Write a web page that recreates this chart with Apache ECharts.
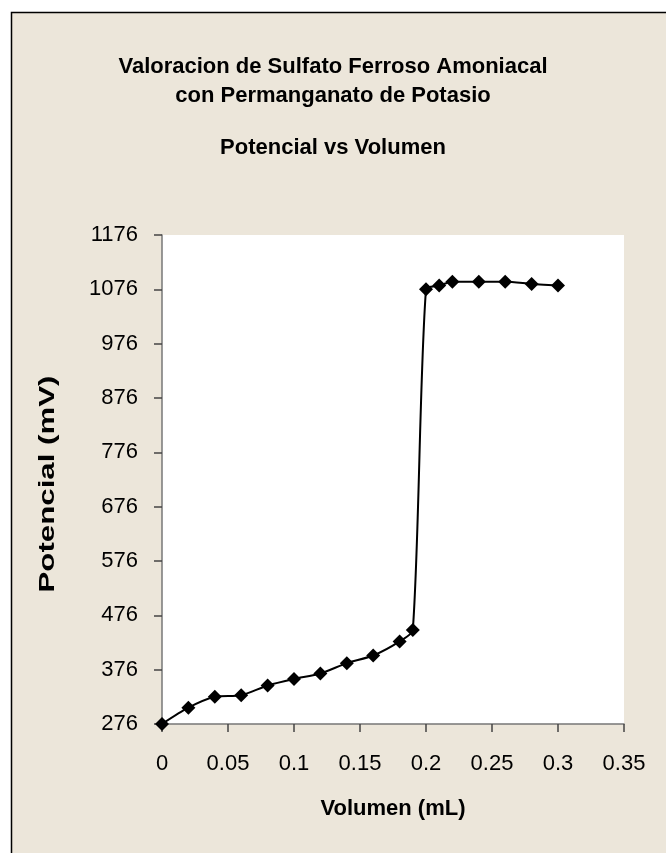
<!DOCTYPE html>
<html>
<head>
<meta charset="utf-8">
<script src="https://cdn.jsdelivr.net/npm/echarts@6/dist/echarts.min.js"></script>
<style>
  html, body { margin: 0; padding: 0; background: #fff; }
  #chart { width: 666px; height: 853px; }
</style>
</head>
<body>
<div id="chart"></div>
<script>
var volumen = [0, 0.02, 0.04, 0.06, 0.08, 0.10, 0.12, 0.14, 0.16, 0.18, 0.19,
               0.20, 0.21, 0.22, 0.24, 0.26, 0.28, 0.30];
var potencial = [276, 306, 326, 329, 347, 359, 369, 388, 402, 428, 449,
                 1076, 1083, 1090, 1090, 1090, 1086, 1083];

var titulo1 = 'Valoracion de Sulfato Ferroso Amoniacal';
var titulo2 = 'con Permanganato de Potasio';
var titulo3 = 'Potencial vs Volumen';
var nombreX = 'Volumen (mL)';
var nombreY = 'Potencial (mV)';

var puntos = volumen.map(function (v, i) { return [v, potencial[i]]; });

var fuente = 'Liberation Sans, Arial, sans-serif';
var myChart = echarts.init(document.getElementById('chart'), null, { renderer: 'canvas' });

var tituloStyle = { fontFamily: fuente, fontSize: 22, fontWeight: 'bold', color: '#000' };

var option = {
    backgroundColor: '#fff',
    animation: false,
    graphic: [{
        type: 'rect',
        z: -10,
        shape: { x: 11.5, y: 12.5, width: 700, height: 900 },
        style: { fill: '#ECE6DA', stroke: '#000', lineWidth: 1.5 }
    }, {
        // y axis title, drawn stretched along its length like the original
        type: 'text',
        x: 48, y: 484,
        rotation: Math.PI / 2,
        scaleX: 1.42,
        style: {
            text: nombreY,
            fill: '#000',
            font: 'bold 22px Liberation Sans, Arial, sans-serif',
            align: 'center', verticalAlign: 'middle',
            textAlign: 'center', textVerticalAlign: 'middle'
        }
    }],
    title: [
        { text: titulo1, left: 'center', top: 56, padding: 0, textStyle: tituloStyle },
        { text: titulo2, left: 'center', top: 85, padding: 0, textStyle: tituloStyle },
        { text: titulo3, left: 'center', top: 137, padding: 0, textStyle: tituloStyle }
    ],
    grid: {
        left: 162, top: 235, right: 42, bottom: 129,
        show: true, backgroundColor: '#fff', borderWidth: 0
    },
    xAxis: {
        type: 'value',
        min: 0, max: 0.35, interval: 0.05,
        name: nombreX,
        nameLocation: 'middle',
        nameGap: 74,
        nameTextStyle: tituloStyle,
        axisLine: { show: true, onZero: false, lineStyle: { color: '#777', width: 1.5 } },
        axisTick: { show: true, inside: false, length: 8, lineStyle: { color: '#444', width: 1.5 } },
        axisLabel: { fontFamily: fuente, fontSize: 22, color: '#000', margin: 29 },
        splitLine: { show: false }
    },
    yAxis: {
        type: 'value',
        min: 276, max: 1176, interval: 100,
        axisLine: { show: true, onZero: false, lineStyle: { color: '#777', width: 1.5 } },
        axisTick: { show: true, inside: false, length: 8, lineStyle: { color: '#444', width: 1.5 } },
        axisLabel: {
            fontFamily: fuente, fontSize: 22, color: '#000', margin: 24,
            formatter: function (v) { return String(v); }
        },
        splitLine: { show: false }
    },
    series: [{
        type: 'line',
        data: puntos,
        smooth: 0.25,
        symbol: 'diamond',
        symbolSize: 14,
        itemStyle: { color: '#000' },
        lineStyle: { color: '#000', width: 2 }
    }]
};
myChart.setOption(option);
</script>
</body>
</html>
